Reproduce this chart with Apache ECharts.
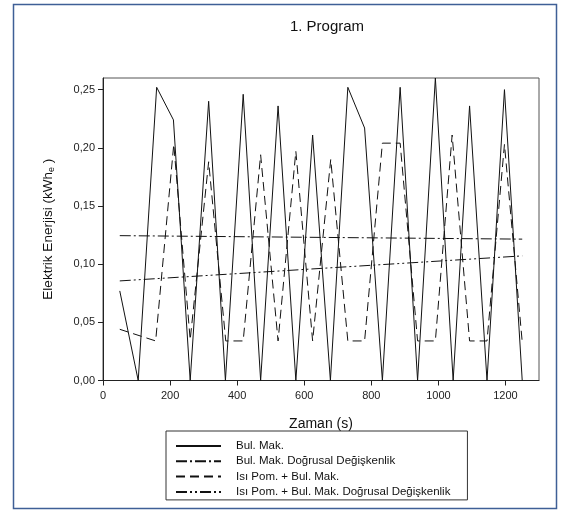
<!DOCTYPE html>
<html>
<head>
<meta charset="utf-8">
<script src="https://cdn.jsdelivr.net/npm/echarts@6/dist/echarts.min.js"></script>
<style>
  html, body { margin: 0; padding: 0; background: #fff; }
  #chart { width: 563px; height: 516px; }
</style>
</head>
<body>
<div id="chart"></div>
<script>
// Time axis (s) and measured electric energy (kWh_e)
const bulMakTime = [50, 105, 160, 210, 260, 315, 365, 418, 470, 522, 575, 625, 678, 730, 780, 833, 886, 938, 991, 1044, 1093, 1145, 1197, 1250];
const bulMakEnergy = [0.077, 0, 0.252, 0.224, 0, 0.240, 0, 0.246, 0, 0.236, 0, 0.211, 0, 0.252, 0.217, 0, 0.252, 0, 0.260, 0, 0.236, 0, 0.250, 0];

const isiPomTime = [50, 157, 211, 260, 315, 366, 418, 470, 522, 575, 625, 679, 730, 780, 833, 886, 938, 991, 1041, 1093, 1145, 1197, 1250];
const isiPomEnergy = [0.044, 0.034, 0.203, 0.035, 0.188, 0.034, 0.034, 0.194, 0.034, 0.197, 0.034, 0.190, 0.034, 0.034, 0.204, 0.204, 0.034, 0.034, 0.211, 0.034, 0.034, 0.203, 0.033];

// Linear trend lines (end points)
const fitTime = [50, 1250];
const bulMakFit = [0.1245, 0.1215];
const isiPomFit = [0.0856, 0.1071];

// Tick positions
const xTicks = [0, 200, 400, 600, 800, 1000, 1200];
const yTicks = [0, 0.05, 0.10, 0.15, 0.20, 0.25];

const seriesNames = [
  'Bul. Mak.',
  'Bul. Mak. Doğrusal Değişkenlik',
  'Isı Pom. + Bul. Mak.',
  'Isı Pom. + Bul. Mak. Doğrusal Değişkenlik'
];

const pairs = (xs, ys) => xs.map((x, i) => [x, ys[i]]);
const FONT = '"Liberation Sans", Arial, sans-serif';

const chart = echarts.init(document.getElementById('chart'), null, { renderer: 'canvas' });

function lineSeries(name, data, dash) {
  return {
    name: name,
    type: 'line',
    data: data,
    symbol: 'none',
    showSymbol: false,
    animation: false,
    lineStyle: { color: '#111', width: 1, type: dash },
    itemStyle: { color: '#111' },
    emphasis: { disabled: true }
  };
}

chart.setOption({
  animation: false,
  backgroundColor: '#fff',
  title: {
    text: '1. Program',
    left: 322,
    top: 14,
    textAlign: 'center',
    textStyle: { fontFamily: FONT, fontSize: 15, fontWeight: 'normal', color: '#111' }
  },
  graphic: [{
    type: 'rect',
    shape: { x: 13.5, y: 4.5, width: 543, height: 504 },
    style: { fill: 'none', stroke: '#3f5f96', lineWidth: 1.5 },
    silent: true
  }],
  grid: {
    left: 103, right: 24, top: 78, bottom: 135.5,
    show: true, borderColor: '#555', borderWidth: 1, backgroundColor: 'transparent'
  },
  xAxis: {
    type: 'value',
    min: 0, max: 1300,
    name: 'Zaman (s)',
    nameLocation: 'middle',
    nameGap: 37,
    nameTextStyle: { fontFamily: FONT, fontSize: 14, color: '#111' },
    axisLine: { show: true, lineStyle: { color: '#222', width: 1 } },
    axisTick: { show: true, inside: false, length: 5, customValues: xTicks, lineStyle: { color: '#222' } },
    axisLabel: {
      customValues: xTicks, margin: 10, fontFamily: FONT, fontSize: 11, color: '#222',
      formatter: v => String(v)
    },
    splitLine: { show: false }
  },
  yAxis: {
    type: 'value',
    min: 0, max: 0.26,
    name: '{a|Elektrik Enerjisi (kWh}{s|e}{a| )}',
    nameLocation: 'middle',
    nameGap: 47,
    nameRotate: 90,
    nameTextStyle: {
      fontFamily: FONT, fontSize: 13.5, color: '#111',
      rich: {
        a: { fontFamily: FONT, fontSize: 13.5, color: '#111' },
        s: { fontFamily: FONT, fontSize: 9, color: '#111', verticalAlign: 'bottom', padding: [6, 0, 0, 0] }
      }
    },
    axisLine: { show: true, lineStyle: { color: '#222', width: 1 } },
    axisTick: { show: true, inside: false, length: 5, customValues: yTicks, lineStyle: { color: '#222' } },
    axisLabel: {
      customValues: yTicks,
      margin: 8,
      fontFamily: FONT, fontSize: 11, color: '#222',
      formatter: v => v.toFixed(2).replace('.', ',')
    },
    splitLine: { show: false }
  },
  legend: {
    orient: 'vertical',
    left: 166,
    top: 431,
    data: seriesNames,
    itemWidth: 45,
    itemHeight: 14,
    itemGap: 3.3,
    padding: [9, 17, 2, 9],
    borderColor: '#333',
    borderWidth: 1,
    backgroundColor: '#fff',
    selectedMode: false,
    itemStyle: { opacity: 0 },
    textStyle: { fontFamily: FONT, fontSize: 11.5, color: '#111', padding: [0, 0, 0, 10] }
  },
  series: [
    lineSeries(seriesNames[0], pairs(bulMakTime, bulMakEnergy), 'solid'),
    lineSeries(seriesNames[1], pairs(fitTime, bulMakFit), [11, 3, 2, 3]),
    lineSeries(seriesNames[2], pairs(isiPomTime, isiPomEnergy), [9, 5]),
    lineSeries(seriesNames[3], pairs(fitTime, isiPomFit), [11, 3, 2, 3, 2, 3])
  ]
});
</script>
</body>
</html>
